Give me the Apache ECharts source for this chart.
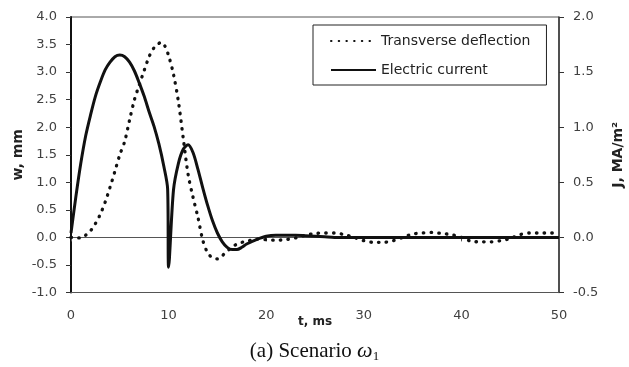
<!DOCTYPE html>
<html>
<head>
<meta charset="utf-8">
<script src="https://cdn.jsdelivr.net/npm/echarts@6/dist/echarts.min.js"></script>
<style>
  html, body { margin: 0; padding: 0; background: #fff; }
  #chart { width: 629px; height: 367px; }
</style>
</head>
<body>
<div id="chart"></div>
<script>
// transverse deflection w (mm), left axis
var deflTime = [0, 0.5, 1, 1.5, 2, 2.5, 3, 3.5, 4, 4.5, 5, 5.5, 6, 6.5, 7, 7.5, 8, 8.5, 9, 9.3, 9.6, 10,
  10.5, 11, 11.5, 12, 12.5, 13, 13.5, 14, 14.5, 15, 15.5, 16, 16.5, 17, 17.5, 18, 19, 20, 21, 22, 23, 24,
  25, 26, 27, 28, 29, 30, 31, 32, 33, 34, 35, 36, 37, 38, 39, 40, 41, 42, 43, 44, 45, 46, 47, 48, 49, 50];
var deflection = [0, -0.01, -0.01, 0.04, 0.12, 0.25, 0.42, 0.64, 0.91, 1.2, 1.5, 1.74, 2.13, 2.5, 2.77, 3.03, 3.28, 3.44, 3.52, 3.54, 3.48, 3.3,
  2.96, 2.47, 1.8, 1.14, 0.73, 0.37, -0.05, -0.28, -0.37, -0.39, -0.33, -0.25, -0.18, -0.12, -0.09, -0.07, -0.03, -0.04, -0.05, -0.04, -0.01, 0.04,
  0.07, 0.08, 0.08, 0.05, 0, -0.06, -0.09, -0.09, -0.06, 0, 0.06, 0.08, 0.09, 0.07, 0.05, 0, -0.07, -0.08, -0.08, -0.06, -0.02, 0.05, 0.08, 0.08, 0.08, 0.08];

// electric current J (MA/m2), right axis
var currTime = [0, 0.5, 1, 1.5, 2, 2.5, 3, 3.5, 4, 4.5, 5, 5.5, 6, 6.5, 7, 7.5, 8, 8.5, 9, 9.5, 9.9, 10,
  10.5, 11, 11.5, 12, 12.5, 13, 13.5, 14, 14.5, 15, 15.5, 16, 16.5, 17, 17.5, 18, 19, 20, 21, 22, 23, 24,
  25, 26, 27, 30, 35, 40, 45, 50];
var current = [0.04, 0.37, 0.67, 0.92, 1.11, 1.28, 1.41, 1.52, 1.59, 1.64, 1.655, 1.64, 1.59, 1.51, 1.4, 1.28, 1.14, 1.01, 0.85, 0.65, 0.44, -0.27,
  0.43, 0.67, 0.8, 0.84, 0.77, 0.62, 0.45, 0.29, 0.15, 0.04, -0.04, -0.09, -0.11, -0.11, -0.09, -0.06, -0.02, 0.01, 0.02, 0.02, 0.02, 0.015,
  0.01, 0.005, 0, 0, 0, 0, 0, 0];

var xTicks = { min: 0, max: 50, interval: 10 };
var wTicks = { min: -1, max: 4, interval: 0.5 };
var jTicks = { min: -0.5, max: 2, interval: 0.5 };

function pairs(xs, ys) {
  return xs.map(function (x, i) { return [x, ys[i]]; });
}

var labelFont = { fontFamily: 'DejaVu Sans', fontSize: 13, color: '#404040' };
var nameFont = { fontFamily: 'DejaVu Sans', fontSize: 14, fontWeight: 'bold', color: '#222' };

var chart = echarts.init(document.getElementById('chart'), null, { renderer: 'canvas' });

var option = {
  animation: false,
  grid: {
    left: 71, right: 70, top: 17, bottom: 74.5,
    outerBoundsMode: 'none',
    show: true, borderColor: '#555', borderWidth: 1
  },
  legend: {
    orient: 'vertical',
    left: 313, top: 25,
    padding: [9, 16, 8, 17],
    itemGap: 15,
    itemWidth: 45, itemHeight: 10,
    backgroundColor: '#fff',
    borderColor: '#222', borderWidth: 1,
    itemStyle: { color: 'rgba(0,0,0,0)', borderWidth: 0 },
    textStyle: { fontFamily: 'DejaVu Sans', fontSize: 14, color: '#222' },
    data: ['Transverse deflection', 'Electric current']
  },
  xAxis: [{
    type: 'value',
    min: xTicks.min, max: xTicks.max, interval: xTicks.interval,
    position: 'bottom',
    axisLine: { onZero: false, lineStyle: { color: '#555', width: 1 } },
    axisTick: { show: false },
    axisLabel: Object.assign({ margin: 17 }, labelFont),
    splitLine: { show: false },
    name: 't, ms', nameLocation: 'middle', nameGap: 23, nameMoveOverlap: false,
    nameTextStyle: Object.assign({}, nameFont, { fontSize: 12 })
  }, {
    type: 'value',
    min: xTicks.min, max: xTicks.max, interval: xTicks.interval,
    position: 'bottom',
    axisLine: { onZero: true, onZeroAxisIndex: 0, lineStyle: { color: '#555', width: 1 } },
    axisTick: { show: true, length: 4, lineStyle: { color: '#555' } },
    axisLabel: { show: false },
    splitLine: { show: false }
  }],
  yAxis: [{
    type: 'value',
    min: wTicks.min, max: wTicks.max, interval: wTicks.interval,
    position: 'left',
    axisLine: { show: true, onZero: false, lineStyle: { color: '#111', width: 2 } },
    axisTick: { show: true, length: 5, lineStyle: { color: '#333' } },
    axisLabel: Object.assign({ margin: 14, formatter: function (v) { return v.toFixed(1); } }, labelFont),
    splitLine: { show: false },
    name: 'w, mm', nameLocation: 'middle', nameGap: 46, nameRotate: 90, nameMoveOverlap: false,
    nameTextStyle: nameFont
  }, {
    type: 'value',
    min: jTicks.min, max: jTicks.max, interval: jTicks.interval,
    position: 'right',
    axisLine: { show: true, onZero: false, lineStyle: { color: '#333', width: 1.5 } },
    axisTick: { show: true, length: 5, lineStyle: { color: '#333' } },
    axisLabel: Object.assign({ margin: 14, formatter: function (v) { return v.toFixed(1); } }, labelFont),
    splitLine: { show: false },
    name: 'J, MA/m²', nameLocation: 'middle', nameGap: 52, nameRotate: 90, nameMoveOverlap: false,
    nameTextStyle: nameFont
  }],
  series: [{
    name: 'Transverse deflection',
    type: 'line',
    xAxisIndex: 0, yAxisIndex: 0,
    symbol: 'none',
    smooth: 0.3,
    color: '#111',
    lineStyle: { color: '#111', width: 3.3, type: [0.5, 7.2], cap: 'round' },
    data: pairs(deflTime, deflection),
    z: 3
  }, {
    name: 'Electric current',
    type: 'line',
    xAxisIndex: 0, yAxisIndex: 1,
    symbol: 'none',
    smooth: 0.3,
    color: '#111',
    lineStyle: { color: '#111', width: 3 },
    data: pairs(currTime, current),
    z: 2
  }],
  graphic: [{
    type: 'text',
    left: 'center', top: 339,
    style: {
      text: '{m|(a) Scenario }{w|ω}{s|1}',
      fill: '#111',
      rich: {
        m: { fontFamily: 'Liberation Serif', fontSize: 21, lineHeight: 24, verticalAlign: 'middle' },
        w: { fontFamily: 'Liberation Serif', fontStyle: 'italic', fontSize: 22, lineHeight: 24, verticalAlign: 'middle' },
        s: { fontFamily: 'Liberation Serif', fontSize: 13, lineHeight: 13, padding: [11, 0, 0, 0], verticalAlign: 'middle' }
      }
    }
  }]
};

chart.setOption(option);
</script>
</body>
</html>
